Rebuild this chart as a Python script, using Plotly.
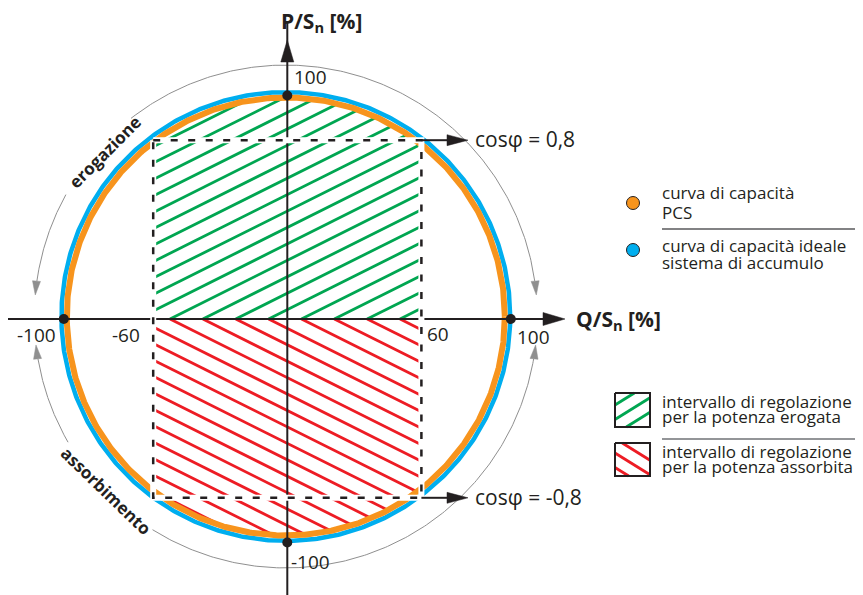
import numpy as np
import plotly.graph_objects as go

# ---------------- data ----------------
Q_TICK_VALUES = [-100, -60, 60, 100]
Q_TICK_LABELS = ["-100", "-60", "60", "100"]
P_TICK_VALUES = [100, -100]
P_TICK_LABELS = ["100", "-100"]
RATED_Q = [-100, 100, 0, 0]
RATED_P = [0, 0, 100, -100]
COS_PHI = [0.8, -0.8]
COS_PHI_LABELS = ["cosφ = 0,8", "cosφ = -0,8"]
S_RATED = 100.0
R_PCS = 98.0          # curva di capacità PCS
R_IDEAL = 100.4       # curva di capacità ideale
CURVE_CENTER_Q = -0.67
CURVE_CENTER_P = 1.12
ARC_RADIUS = 112.5
ARC_LABELS = ["erogazione", "assorbimento"]
AXIS_TITLE_Q = "Q/S<sub>n</sub> [%]"
AXIS_TITLE_P = "P/S<sub>n</sub> [%]"
LEGEND_CURVE_LINES = [["curva di capacità", "PCS"],
                      ["curva di capacità ideale", "sistema di accumulo"]]
LEGEND_AREA_LINES = [["intervallo di regolazione", "per la potenza erogata"],
                     ["intervallo di regolazione", "per la potenza assorbita"]]

P_LIMIT = S_RATED * abs(COS_PHI[0])                 # 80
Q_LIMIT = S_RATED * np.sqrt(1 - COS_PHI[0] ** 2)    # 60

# ---------------- styles ----------------
W, H = 863, 595
PAGE_OFF = 8           # page body margin of the html page
OX, OY = 287.3, 319.0  # screen position of the origin
SC = 2.235
DARK = "#231f20"
ORANGE = "#f7941d"
BLUE = "#00aeef"
GREEN = "#00a651"
RED = "#ed1c24"
GRAY = "#8f8f8f"
FONT = "Open Sans"


def X(px):
    return (px - OX) / SC


def Y(py):
    return (OY - py) / SC


def L(p):
    return p / SC


fig = go.Figure()


def add_line(xs, ys, color, width, dash=None):
    fig.add_trace(go.Scatter(x=xs, y=ys, mode="lines",
                             line=dict(color=color, width=width, dash=dash),
                             hoverinfo="skip", showlegend=False))


def add_tri(tip, u, length_px, half_px, color):
    tx, ty = tip
    ux, uy = u
    n = np.hypot(ux, uy)
    ux, uy = ux / n, uy / n
    bx, by = tx - ux * L(length_px), ty - uy * L(length_px)
    px_, py_ = -uy * L(half_px), ux * L(half_px)
    fig.add_trace(go.Scatter(x=[tx, bx + px_, bx - px_, tx],
                             y=[ty, by + py_, by - py_, ty],
                             mode="lines", fill="toself", fillcolor=color,
                             line=dict(color=color, width=0.5),
                             hoverinfo="skip", showlegend=False))


# ---------------- hatching ----------------
def hatch_segments(slope, q_start, spacing, cx, cy, R, qmax):
    xs, ys = [], []
    for k in range(-20, 20):
        q0 = q_start + k * spacing
        b0 = -slope * q0 - cy
        a = 1 + slope ** 2
        b = 2 * (slope * b0 - cx)
        c = cx ** 2 + b0 ** 2 - R ** 2
        disc = b * b - 4 * a * c
        if disc <= 0:
            continue
        t1 = (-b - np.sqrt(disc)) / (2 * a)
        t2 = (-b + np.sqrt(disc)) / (2 * a)
        lo = max(t1, -qmax, q0)
        hi = min(t2, qmax)
        if lo < hi:
            xs += [lo, hi, None]
            ys += [slope * (lo - q0), slope * (hi - q0), None]
    return xs, ys


HATCH_SLOPE = 0.5
gx, gy = hatch_segments(HATCH_SLOPE, X(170), L(32.86), CURVE_CENTER_Q,
                        CURVE_CENTER_P, R_PCS, Q_LIMIT)
add_line(gx, gy, GREEN, 2.8)
rx, ry = hatch_segments(-HATCH_SLOPE, X(170), L(32.86), CURVE_CENTER_Q,
                        CURVE_CENTER_P, R_PCS, Q_LIMIT)
add_line(rx, ry, RED, 2.8)

# ---------------- capability curves ----------------
th = np.linspace(0, 2 * np.pi, 721)
add_line(CURVE_CENTER_Q + R_IDEAL * np.cos(th), CURVE_CENTER_P + R_IDEAL * np.sin(th), BLUE, 4.5)
add_line(CURVE_CENTER_Q + R_PCS * np.cos(th), CURVE_CENTER_P + R_PCS * np.sin(th), ORANGE, 6)

# ---------------- gray arcs ----------------
def arc(a0, a1):
    a = np.radians(np.linspace(a0, a1, 200))
    return CURVE_CENTER_Q + ARC_RADIUS * np.cos(a), CURVE_CENTER_P + ARC_RADIUS * np.sin(a)


head_deg = np.degrees(L(14) / ARC_RADIUS)
up_tip, lo_tip = 4.9, -6.5
for a0, a1 in [(up_tip + head_deg, 128), (151, 180 - up_tip - head_deg),
               (180 - lo_tip + head_deg, 210), (238, 360 + lo_tip - head_deg)]:
    xs, ys = arc(a0, a1)
    add_line(xs, ys, GRAY, 1)


def arc_pt(a):
    r = np.radians(a)
    return CURVE_CENTER_Q + ARC_RADIUS * np.cos(r), CURVE_CENTER_P + ARC_RADIUS * np.sin(r)


for tip_a, direction in [(up_tip, -1), (180 - up_tip, 1), (180 - lo_tip, -1), (360 + lo_tip, 1)]:
    r = np.radians(tip_a)
    tang = (-np.sin(r) * direction, np.cos(r) * direction)
    add_tri(arc_pt(tip_a), tang, 14, 4, GRAY)

# ---------------- axes ----------------
add_line([X(8), X(565) - L(18)], [0, 0], DARK, 2)
add_tri((X(565), 0), (1, 0), 22, 6.5, DARK)
add_line([0, 0], [Y(600), Y(40) + L(18)], DARK, 2)
add_tri((0, Y(40)), (0, 1), 22, 6.5, DARK)

# ---------------- regulation rectangle ----------------
rect_q = [-Q_LIMIT, Q_LIMIT, Q_LIMIT, -Q_LIMIT, -Q_LIMIT]
rect_p = [P_LIMIT, P_LIMIT, -P_LIMIT, -P_LIMIT, P_LIMIT]
add_line(rect_q, rect_p, "white", 6)
add_line(rect_q, rect_p, DARK, 2.5, dash="7px,10.5px")

# ---------------- cos phi arrows ----------------
for cp in COS_PHI:
    p = S_RATED * cp
    add_line([Q_LIMIT, X(468) - L(18)], [p, p], DARK, 2)
    add_tri((X(468), p), (1, 0), 21, 5.5, DARK)

# ---------------- rated points ----------------
fig.add_trace(go.Scatter(x=RATED_Q, y=RATED_P, mode="markers",
                         marker=dict(color=DARK, size=10),
                         hoverinfo="skip", showlegend=False))

# ---------------- legend ----------------
fig.add_trace(go.Scatter(x=[X(633), X(633)], y=[Y(203), Y(250)], mode="markers",
                         marker=dict(color=[ORANGE, BLUE], size=13,
                                     line=dict(color=DARK, width=1)),
                         hoverinfo="skip", showlegend=False))
add_line([X(662), X(870)], [Y(229), Y(229)], "#58595b", 1.5)
add_line([X(662), X(870)], [Y(439), Y(439)], "#939598", 2)


def box_hatch(top, bottom, left, right, slope_px, intercepts, color):
    xs, ys = [], []
    for c in intercepts:  # y_px at left edge
        def at_y(yy):
            return left + (yy - c) / slope_px
        seg = []
        for xx in (left, right):
            yy = c + slope_px * (xx - left)
            if yy < top:
                xx, yy = at_y(top), top
            elif yy > bottom:
                xx, yy = at_y(bottom), bottom
            seg.append((xx, yy))
        xs += [X(seg[0][0]), X(seg[1][0]), None]
        ys += [Y(seg[0][1]), Y(seg[1][1]), None]
    add_line(xs, ys, color, 2.8)
    add_line([X(left), X(right), X(right), X(left), X(left)],
             [Y(top), Y(top), Y(bottom), Y(bottom), Y(top)], DARK, 2)


box_hatch(393, 427, 615, 650, -0.62, [405, 419.5, 434], GREEN)
box_hatch(443, 476, 615, 650, 0.62, [438.5, 453, 467.5], RED)

# ---------------- annotations ----------------
ann = []


def text(x, y, s, size, xanchor="center", yanchor="middle", angle=0, weight="normal",
         xshift=0, yshift=0, color=DARK, align="left"):
    ann.append(dict(x=x, y=y, text=s, showarrow=False, xanchor=xanchor, yanchor=yanchor,
                    textangle=angle, xshift=xshift, yshift=yshift, align=align,
                    font=dict(family=FONT, size=size, color=color, weight=weight)))


q_shifts = {-100: (-27, -16), -60: (-27, -16), 60: (17, -15), 100: (23, -18)}
for v, lab in zip(Q_TICK_VALUES, Q_TICK_LABELS):
    sx, sy = q_shifts[v]
    text(v, 0, lab, 19, xshift=sx, yshift=sy)
p_shifts = {100: (23, 19), -100: (23, -19)}
for v, lab in zip(P_TICK_VALUES, P_TICK_LABELS):
    sx, sy = p_shifts[v]
    text(0, v, lab, 19, xshift=sx, yshift=sy)

text(X(321), Y(22), AXIS_TITLE_P, 21, weight="bold")
text(X(574), Y(320), AXIS_TITLE_Q, 21, xanchor="left", weight="bold")

for cp, lab in zip(COS_PHI, COS_PHI_LABELS):
    text(X(473), S_RATED * cp, lab, 21, xanchor="left", yshift=1)

text(X(104), Y(152), ARC_LABELS[0], 17, angle=-45, weight="bold")
text(X(106), Y(490), ARC_LABELS[1], 17, angle=44, weight="bold")

# legend text, one annotation per line (baselines)
legend_baselines = [[198, 218], [251.5, 268.5]]
for lines, bases in zip(LEGEND_CURVE_LINES, legend_baselines):
    for s, b in zip(lines, bases):
        text(X(660), Y(b - 6), s, 17, xanchor="left")
area_baselines = [[407.5, 422.5], [457.5, 472.5]]
for lines, bases in zip(LEGEND_AREA_LINES, area_baselines):
    for s, b in zip(lines, bases):
        text(X(660), Y(b - 6), s, 17, xanchor="left")

fig.update_layout(
    width=W, height=H, autosize=False,
    margin=dict(l=0, r=0, t=0, b=0),
    paper_bgcolor="white", plot_bgcolor="white",
    xaxis=dict(range=[X(PAGE_OFF), X(W + PAGE_OFF)], visible=False, fixedrange=True),
    yaxis=dict(range=[Y(H + PAGE_OFF), Y(PAGE_OFF)], visible=False, fixedrange=True),
    annotations=ann, showlegend=False,
)
fig.write_html("out.html")
